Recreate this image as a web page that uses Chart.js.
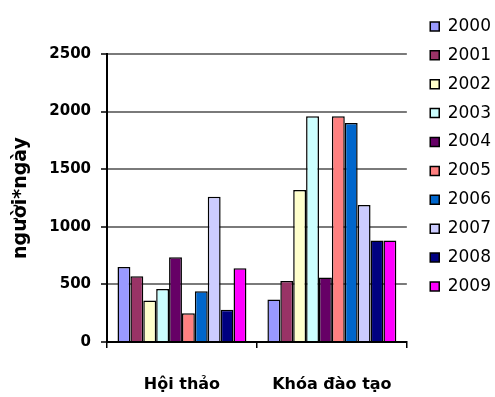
<!DOCTYPE html>
<html>
<head>
<meta charset="utf-8">
<script src="https://cdn.jsdelivr.net/npm/chart.js@4/dist/chart.umd.min.js"></script>
<style>
  html, body { margin: 0; padding: 0; background: #fff; }
  #wrap { width: 495px; height: 397px; }
</style>
</head>
<body>
<div id="wrap"><canvas id="barChart"></canvas></div>
<script>
const categories = ["Hội thảo", "Khóa đào tạo"];
const years = ["2000", "2001", "2002", "2003", "2004", "2005", "2006", "2007", "2008", "2009"];
const hoiThao = [650, 570, 360, 460, 735, 250, 440, 1260, 280, 640];
const khoaDaoTao = [370, 530, 1320, 1960, 560, 1960, 1900, 1190, 880, 880];
const colors = ["#9999FF", "#993366", "#FFFFCC", "#CCFFFF", "#660066",
                "#FF8080", "#0066CC", "#CCCCFF", "#000080", "#FF00FF"];
const yTicks = [0, 500, 1000, 1500, 2000, 2500];

const font = "'DejaVu Sans', sans-serif";

const datasets = years.map((y, i) => ({
  label: y,
  data: [hoiThao[i], khoaDaoTao[i]],
  xAxisID: "x",
  yAxisID: "y",
  backgroundColor: colors[i],
  borderColor: "#000",
  borderWidth: 1.5,
  barPercentage: 1,
  categoryPercentage: 0.86
}));

// empty axes, only there to leave room above and right of the plot
const spacer = size => ({
  display: true,
  grid: { display: false, drawTicks: false },
  border: { display: false },
  ticks: { display: false },
  afterFit: size
});

new Chart(document.getElementById("barChart").getContext("2d"), {
  type: "bar",
  data: { labels: categories, datasets },
  options: {
    responsive: true,
    maintainAspectRatio: false,
    animation: false,
    layout: { padding: { top: 6, right: -6, bottom: 0, left: 0 } },
    plugins: {
      tooltip: { enabled: false },
      legend: {
        position: "right",
        align: "start",
        labels: {
          boxWidth: 9,
          boxHeight: 9,
          padding: 11.9,
          color: "#000",
          font: { family: font, size: 17 }
        }
      }
    },
    scales: {
      x: {
        grid: { offset: true, drawOnChartArea: false, color: "#000", lineWidth: 1.5, tickLength: 6 },
        border: { color: "#000", width: 2 },
        ticks: { color: "#000", padding: 27, font: { family: font, size: 16, weight: "bold" } },
        afterFit: s => { s.height = 55; }
      },
      y: {
        position: "left",
        min: 0,
        max: 2500,
        afterBuildTicks: axis => { axis.ticks = yTicks.map(v => ({ value: v })); },
        afterFit: s => { s.width = 107; },
        grid: {
          color: "#7a7a7a",
          lineWidth: 2,
          tickLength: 6,
          tickColor: "#000",
          tickWidth: 1.5
        },
        border: { color: "#000", width: 2 },
        ticks: {
          color: "#000",
          padding: 10,
          font: { family: font, size: 15, weight: "bold" },
          callback: v => String(v)
        },
        title: {
          display: true,
          text: "người*ngày",
          color: "#000",
          padding: { top: 10, bottom: 0 },
          font: { family: font, size: 19, weight: "bold" }
        }
      },
      xTop: Object.assign({ type: "category", position: "top" }, spacer(s => { s.height = 48; })),
      yRight: Object.assign({ type: "linear", position: "right" }, spacer(s => { s.width = 11.5; }))
    }
  }
});
</script>
</body>
</html>
